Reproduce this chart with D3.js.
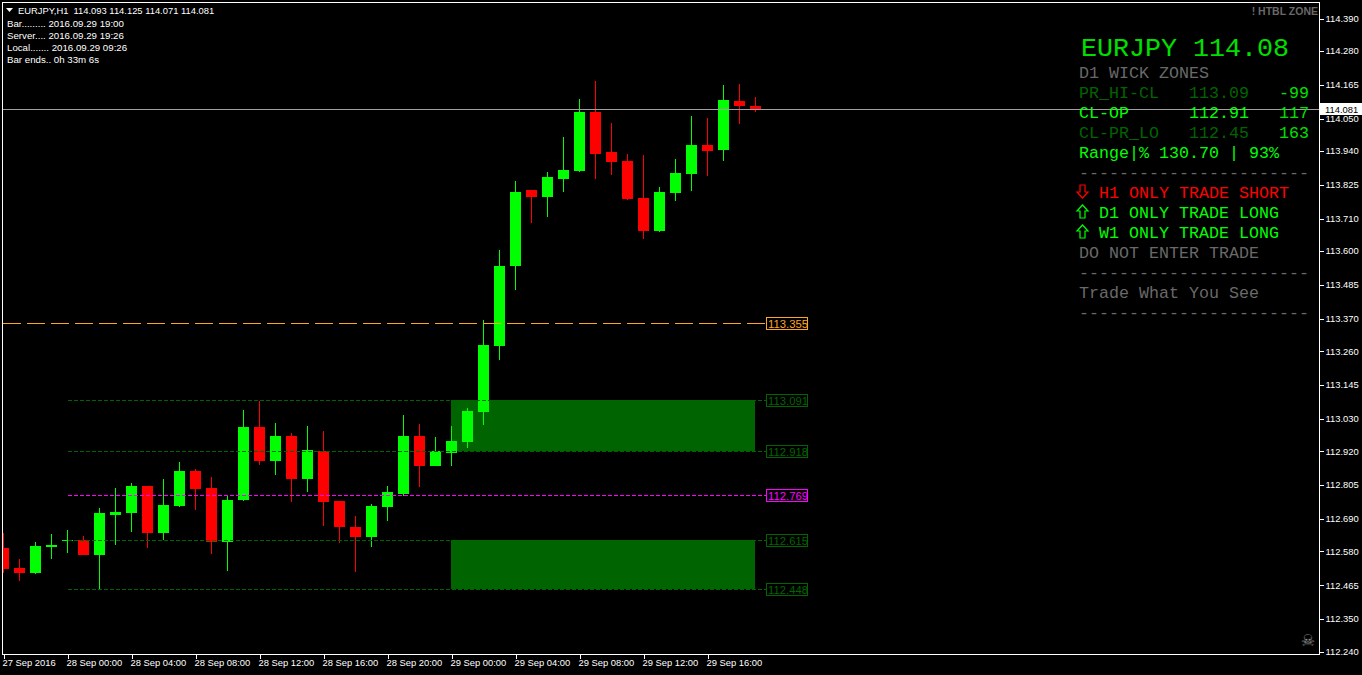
<!DOCTYPE html>
<html><head><meta charset="utf-8">
<script src="https://cdn.jsdelivr.net/npm/d3@7/dist/d3.min.js"></script>
<style>html,body{margin:0;padding:0;background:#000;overflow:hidden}svg{display:block}
.ui{font-family:"Liberation Sans",Arial,sans-serif;font-size:9.4px;fill:#fff;white-space:pre}
.mono{font-family:"Liberation Mono",monospace;font-size:16.67px}
</style></head><body><svg id="c" width="1362" height="675"></svg>
<script>
const opens=[112.591,112.524,112.507,112.595,112.615,112.619,112.568,112.704,112.710,112.802,112.642,112.734,112.853,112.795,112.612,112.754,113.002,112.887,112.972,112.826,112.921,112.751,112.663,112.629,112.731,112.775,112.972,112.870,112.914,112.952,113.053,113.278,113.549,113.807,113.784,113.845,113.872,114.072,113.937,113.906,113.780,113.668,113.797,113.862,113.960,113.943,114.110,114.093];
const highs=[112.642,112.554,112.612,112.639,112.653,112.632,112.727,112.795,112.812,112.802,112.826,112.884,112.860,112.833,112.768,113.060,113.091,113.016,112.982,113.006,112.989,112.751,112.700,112.741,112.802,113.043,113.013,112.968,113.006,113.067,113.366,113.604,113.838,113.807,113.869,113.987,114.117,114.178,114.035,113.930,113.926,113.818,113.913,114.059,114.052,114.164,114.167,114.125];
const lows=[112.507,112.479,112.503,112.554,112.574,112.568,112.452,112.602,112.646,112.591,112.619,112.731,112.720,112.571,112.513,112.751,112.873,112.839,112.748,112.782,112.666,112.608,112.510,112.595,112.683,112.768,112.799,112.870,112.870,112.931,113.009,113.230,113.468,113.695,113.716,113.801,113.869,113.845,113.858,113.774,113.641,113.665,113.770,113.804,113.855,113.906,114.032,114.071];
const closes=[112.520,112.507,112.598,112.602,112.619,112.568,112.710,112.714,112.802,112.642,112.737,112.853,112.792,112.612,112.754,113.002,112.887,112.972,112.826,112.924,112.748,112.663,112.629,112.734,112.782,112.972,112.870,112.921,112.955,113.057,113.281,113.549,113.801,113.784,113.852,113.875,114.072,113.930,113.902,113.777,113.668,113.801,113.865,113.960,113.940,114.113,114.093,114.081];
const priceTicks=[114.390,114.280,114.165,114.050,113.940,113.825,113.710,113.600,113.485,113.370,113.260,113.145,113.030,112.920,112.805,112.690,112.580,112.465,112.350,112.240];
const timeIdx=[0,4,8,12,16,20,24,28,32,36,40,44];
const timeLabels=["27 Sep 2016","28 Sep 00:00","28 Sep 04:00","28 Sep 08:00","28 Sep 12:00","28 Sep 16:00","28 Sep 20:00","29 Sep 00:00","29 Sep 04:00","29 Sep 08:00","29 Sep 12:00","29 Sep 16:00"];
const zones=[[113.091,112.918],[112.615,112.448]];
const levels=[[113.091,"#006400"],[112.918,"#006400"],[112.769,"#ff00ff"],[112.615,"#006400"],[112.448,"#006400"]];
const pivot=113.355, pivotColor="#ffa520", last=114.081;
const infoLines=["Bar......... 2016.09.29 19:00","Server.... 2016.09.29 19:26","Local....... 2016.09.29 09:26","Bar ends.. 0h 33m 6s"];
const panelRows=[
 [72,1079,"D1 WICK ZONES","#696969"],
 [92,1079,"PR_HI-CL","#006400"],[92,1189,"113.09","#006400"],[92,1279,"-99","#00e000"],
 [112,1079,"CL-OP","#00ff00"],[112,1189,"112.91","#00ff00"],[112,1279,"117","#00e000"],
 [132,1079,"CL-PR_LO","#006400"],[132,1189,"112.45","#006400"],[132,1279,"163","#00e000"],
 [152,1079,"Range|% 130.70 | 93%","#00ff00"],
 [172,1079,"-----------------------","#696969"],
 [192,1099,"H1 ONLY TRADE SHORT","#ff0000"],
 [212,1099,"D1 ONLY TRADE LONG","#00ff00"],
 [232,1099,"W1 ONLY TRADE LONG","#00ff00"],
 [252,1079,"DO NOT ENTER TRADE","#696969"],
 [272,1079,"-----------------------","#696969"],
 [292,1079,"Trade What You See","#696969"],
 [312,1079,"-----------------------","#696969"]];
const arrows=[[192,1,"#ff0000"],[212,-1,"#00ff00"],[232,-1,"#00ff00"]];

const L=2.5,T=2.5,R=1319.5,B=654.5;
const svg=d3.select("#c");
svg.append("rect").attr("width",1362).attr("height",675).attr("fill","#000");
const x=d3.scaleLinear().domain([0,47]).range([3.5,755.5]);
const y=d3.scaleLinear().domain([112.24,114.39]).range([651.5,18.5]);
const levelY=d3.scaleLinear().domain([112.24,114.39]).range([651.2,18.5]);
const row=v=>Math.floor(levelY(v)-0.05);
const snap=v=>row(v)+0.5;
svg.append("clipPath").attr("id","pl").append("rect").attr("x",3).attr("y",3).attr("width",1316).attr("height",651);
const plot=svg.append("g").attr("clip-path","url(#pl)");
// zones
plot.selectAll(".z").data(zones).join("rect").attr("x",x(28)-0.5).attr("width",x(47)-x(28))
 .attr("y",d=>row(d[0])).attr("height",d=>row(d[1])-row(d[0])).attr("fill","#006400");
// candles
const idx=d3.range(opens.length);
const col=i=>closes[i]>opens[i]?"#00ff00":"#ff0000";
plot.selectAll(".w").data(idx).join("line").attr("x1",x).attr("x2",x)
 .attr("y1",i=>Math.round(y(highs[i]))).attr("y2",i=>Math.round(y(lows[i]))).attr("stroke",col).attr("stroke-width",1).attr("shape-rendering","crispEdges");
plot.selectAll(".b").data(idx).join("rect").attr("x",i=>x(i)-5.5).attr("width",11)
 .attr("y",i=>Math.round(y(Math.max(opens[i],closes[i]))))
 .attr("height",i=>Math.max(1,Math.round(y(Math.min(opens[i],closes[i])))-Math.round(y(Math.max(opens[i],closes[i])))))
 .attr("fill",col).attr("shape-rendering","crispEdges");
// levels
plot.selectAll(".lv").data(levels).join("line").attr("x1",x(4)).attr("x2",766)
 .attr("y1",d=>snap(d[0])).attr("y2",d=>snap(d[0])).attr("stroke",d=>d[1]).attr("stroke-dasharray","4 2").attr("shape-rendering","crispEdges");
plot.append("line").attr("x1",3).attr("x2",766).attr("y1",snap(pivot)).attr("y2",snap(pivot)).attr("stroke",pivotColor).attr("stroke-dasharray","18 6").attr("shape-rendering","crispEdges");
plot.append("line").attr("x1",3).attr("x2",1319).attr("y1",snap(last)).attr("y2",snap(last)).attr("stroke","#a0a0a0").attr("shape-rendering","crispEdges");
// level boxes
const boxes=[[pivot,pivotColor]].concat(levels);
const bg=svg.append("g").selectAll("g").data(boxes).join("g").attr("transform",d=>`translate(766.5,${snap(d[0])-6})`);
bg.append("rect").attr("width",41).attr("height",12).attr("fill","#000").attr("stroke",d=>d[1]).attr("shape-rendering","crispEdges");
bg.append("text").attr("class","ui").attr("x",1.5).attr("y",10.3).style("fill",d=>d[1]).style("font-size","11.3px").text(d=>d[0].toFixed(3));
// frame
svg.append("rect").attr("x",L).attr("y",T).attr("width",R-L).attr("height",B-T).attr("fill","none").attr("stroke","#fff").attr("shape-rendering","crispEdges");
// axes
const yAxis=d3.axisRight(y).tickValues(priceTicks).tickSize(4).tickPadding(2).tickFormat(d3.format(".3f"));
const ga=svg.append("g").attr("transform",`translate(${R},0)`).call(yAxis);
ga.select(".domain").remove();
ga.selectAll("line").attr("stroke","#fff").attr("shape-rendering","crispEdges");
ga.selectAll("text").attr("class","ui").attr("fill","#fff").attr("dy","0.3em");
const xAxis=d3.axisBottom(x).tickValues(timeIdx).tickSize(4).tickPadding(2).tickFormat((d,i)=>timeLabels[i]);
const gx=svg.append("g").attr("transform",`translate(0,${B})`).call(xAxis);
gx.select(".domain").remove();
gx.selectAll("line").attr("stroke","#fff").attr("shape-rendering","crispEdges");
gx.selectAll("text").attr("class","ui").attr("text-anchor","start").attr("x",-1.5).attr("y",5).attr("dy","0.71em");
// current price tag
svg.append("rect").attr("x",1320).attr("y",snap(last)-6.5).attr("width",42).attr("height",12).attr("fill","#fff");
svg.append("text").attr("class","ui").attr("x",1325).attr("y",snap(last)+3.5).style("fill","#000").text(last.toFixed(3));
// header
svg.append("path").attr("d","M6 8h7l-3.5 4z").attr("fill","#fff");
svg.append("text").attr("class","ui").attr("x",18).attr("y",13.5).text("EURJPY,H1  114.093 114.125 114.071 114.081");
svg.selectAll(".info").data(infoLines).join("text").attr("class","ui").attr("x",7).attr("y",(d,i)=>26.5+i*12).style("font-size","9.7px").text(d=>d);
svg.append("text").attr("class","ui").attr("x",1318).attr("y",14.5).attr("text-anchor","end").style("fill","#696969").style("font-weight","bold").style("font-size","10.5px").text("! HTBL ZONE");
// panel
svg.append("text").attr("class","mono").attr("x",1081).attr("y",56).style("font-size","26.67px").attr("fill","#00e000").text("EURJPY 114.08");
svg.selectAll(".p").data(panelRows).join("text").attr("class","mono").attr("x",d=>d[1]).attr("y",d=>d[0]+6).attr("fill",d=>d[3]).text(d=>d[2]);
// hollow block arrows
svg.selectAll(".a").data(arrows).join("path")
 .attr("transform",d=>`translate(1082.5,${d[0]-0.5}) scale(1,${d[1]})`)
 .attr("d","M-2.5 -6.5H2.5V0.5H5.5L0 6.5L-5.5 0.5H-2.5Z")
 .attr("fill","none").attr("stroke",d=>d[2]).attr("stroke-width",1.2);
svg.append("text").attr("x",1308).attr("y",646).attr("text-anchor","middle").attr("fill","#8a8a8a").style("font-family","DejaVu Sans").style("font-size","16px").text("\u2620");
</script></body></html>
